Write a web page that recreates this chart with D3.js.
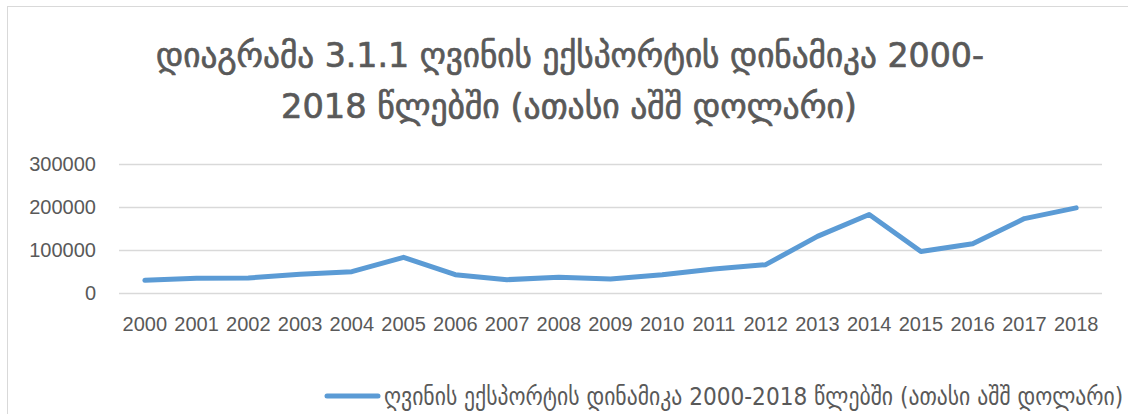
<!DOCTYPE html>
<html>
<head>
<meta charset="utf-8">
<script src="https://cdn.jsdelivr.net/npm/d3@7"></script>
<style>
  html, body { margin: 0; padding: 0; background: #fff; }
  svg { display: block; }
</style>
</head>
<body>
<svg id="chart" width="1128" height="414"></svg>
<script>
// Wine export, thousand USD, 2000-2018
const years = ["2000","2001","2002","2003","2004","2005","2006","2007","2008","2009",
               "2010","2011","2012","2013","2014","2015","2016","2017","2018"];
const exportValues = [29500, 34100, 34900, 43400, 49600, 82900, 42600, 31000, 36400, 32600,
                      42600, 55800, 65900, 131800, 182600, 96500, 114500, 173000, 198000];
const yTicks = [0, 100000, 200000, 300000];
const titleLines = ["დიაგრამა 3.1.1 ღვინის ექსპორტის დინამიკა 2000-",
                    "2018 წლებში (ათასი აშშ დოლარი)"];
const seriesName = "ღვინის ექსპორტის დინამიკა 2000-2018 წლებში (ათასი აშშ დოლარი)";

const W = 1128, H = 414;
const plot = { left: 119, right: 1102, top: 164, bottom: 293 };
const textColor = "#595959";
const lineColor = "#5b9bd5";
const geoFont = "'DejaVu Sans Condensed', 'DejaVu Sans', sans-serif";
const numFont = "'Liberation Sans', Arial, sans-serif";
const DIGIT_H = 0.729; // digit height of DejaVu, in em

const svg = d3.select("#chart");

// outer chart frame
svg.append("rect")
  .attr("x", 7.5).attr("y", 6.5)
  .attr("width", W + 10).attr("height", H + 10)
  .attr("fill", "none").attr("stroke", "#d9d9d9").attr("stroke-width", 1);

const x = d3.scaleBand().domain(years).range([plot.left, plot.right]).padding(0);
const y = d3.scaleLinear().domain([0, 300000]).range([plot.bottom, plot.top]);

// Georgian text block: width set by font size, height by a vertical stretch
function geoText(str, opts) {
  const g = svg.append("g");
  const el = g.append("text")
    .attr("x", 0).attr("y", 0)
    .attr("text-anchor", opts.anchor)
    .attr("font-family", geoFont)
    .attr("fill", textColor)
    .attr("font-size", 20)
    .text(str);
  if (opts.stroke) {
    el.attr("stroke", textColor).attr("stroke-width", opts.stroke)
      .attr("stroke-linejoin", "round");
  }
  const w = el.node().getComputedTextLength();
  const size = 20 * opts.width / w;
  el.attr("font-size", size);
  const k = opts.digitHeight / (DIGIT_H * size);
  g.attr("transform", `translate(${opts.x},${opts.y}) scale(1,${k})`);
  return el;
}

// title
geoText(titleLines[0], { anchor: "middle", x: 570, y: 67, width: 828, digitHeight: 24.5, stroke: 0.7 });
geoText(titleLines[1], { anchor: "middle", x: 569, y: 118, width: 576, digitHeight: 25, stroke: 0.7 });

// y axis with gridlines
const yAxis = d3.axisLeft(y)
  .tickValues(yTicks)
  .tickFormat(d3.format("d"))
  .tickSize(-(plot.right - plot.left))
  .tickPadding(23);

const gy = svg.append("g")
  .attr("transform", `translate(${plot.left},0)`)
  .call(yAxis);
gy.select(".domain").remove();
gy.selectAll(".tick line").attr("stroke", "#d9d9d9").attr("stroke-width", 1.3);
gy.selectAll(".tick text")
  .attr("fill", textColor)
  .attr("font-family", numFont)
  .attr("font-size", 20);

// x axis labels
const xAxis = d3.axisBottom(x).tickSize(0).tickPadding(24);
const gx = svg.append("g")
  .attr("transform", `translate(0,${plot.bottom})`)
  .call(xAxis);
gx.select(".domain").remove();
gx.selectAll(".tick text")
  .attr("fill", textColor)
  .attr("font-family", numFont)
  .attr("font-size", 20);

// series line
const line = d3.line()
  .x((d, i) => x(years[i]) + x.bandwidth() / 2)
  .y(d => y(d));

svg.append("path")
  .datum(exportValues)
  .attr("d", line)
  .attr("fill", "none")
  .attr("stroke", lineColor)
  .attr("stroke-width", 5)
  .attr("stroke-linejoin", "round")
  .attr("stroke-linecap", "round");

// legend
svg.append("line")
  .attr("x1", 327).attr("x2", 378)
  .attr("y1", 396).attr("y2", 396)
  .attr("stroke", lineColor).attr("stroke-width", 5)
  .attr("stroke-linecap", "round");

geoText(seriesName, { anchor: "start", x: 384, y: 405, width: 740, digitHeight: 18 });
</script>
</body>
</html>
